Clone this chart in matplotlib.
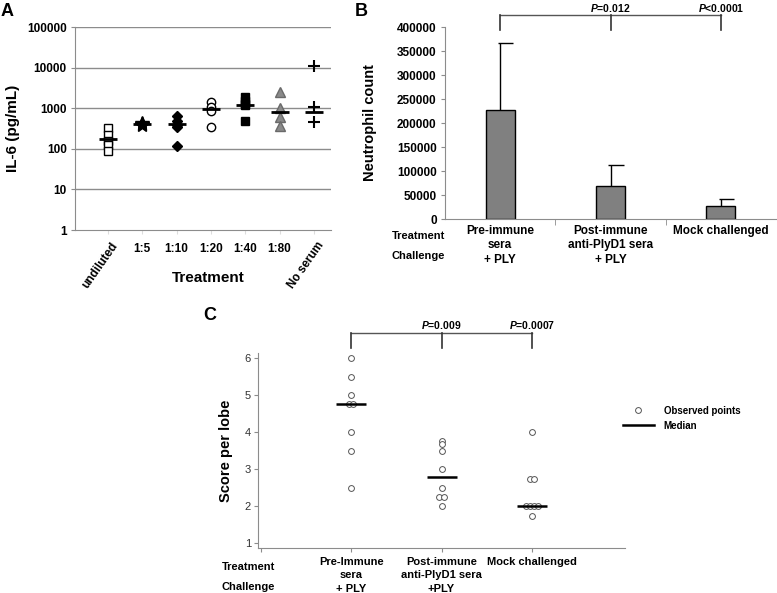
import numpy as np
import matplotlib
matplotlib.use("Agg")
import matplotlib.pyplot as plt
import matplotlib.transforms as mtransforms
from matplotlib.lines import Line2D

plt.rcParams['font.family'] = ['Liberation Sans', 'DejaVu Sans']
plt.rcParams['font.weight'] = 'bold'
plt.rcParams['axes.labelweight'] = 'bold'
plt.rcParams['mathtext.fontset'] = 'custom'
plt.rcParams['mathtext.rm'] = 'Liberation Sans:bold'
plt.rcParams['mathtext.it'] = 'Liberation Sans:italic:bold'

# Panel A: IL-6 (pg/mL) per dilution
a_groups = ['undiluted', '1:5', '1:10', '1:20', '1:40', '1:80', 'No serum']
a_undiluted = [330, 215, 160, 125, 90]
a_1_5 = [380, 400, 420, 410]
a_1_10 = [640, 480, 380, 340, 120]
a_1_20 = [1400, 1100, 850, 350]
a_1_40 = [1900, 1500, 1250, 1200, 480]
a_1_80 = [2500, 1000, 620, 370]
a_noserum = [11000, 1100, 450]
a_median = [175, 400, 410, 970, 1200, 800, 800]
a_yticks = [1, 10, 100, 1000, 10000, 100000]

# Panel B: neutrophil count
b_groups = ['Pre-immune\nsera\n+ PLY', 'Post-immune\nanti-PlyD1 sera\n+ PLY', 'Mock challenged']
b_mean = [227000, 69500, 27000]
b_err = [139000, 43000, 15300]
b_pvals = ['$P$=0.012', '$P$<0.0001']

# Panel C: score per lobe
c_groups = ['Pre-Immune\nsera\n+ PLY', 'Post-immune\nanti-PlyD1 sera\n+PLY', 'Mock challenged']
c_pre = [6, 5.5, 5, 4.75, 4.75, 4, 3.5, 2.5]
c_post = [3.75, 3.67, 3.5, 3, 2.5, 2.25, 2.25, 2]
c_mock = [4, 2.75, 2.75, 2, 2, 2, 2, 1.75]
c_median = [4.75, 2.8, 2.0]
c_pvals = ['$P$=0.009', '$P$=0.0007']

W, H = 777, 593
fig = plt.figure(figsize=(W / 100, H / 100), dpi=100)


def box(l, t, r, b):
    return [l / W, 1 - b / H, (r - l) / W, (b - t) / H]


def ftext(x, y, s, **kw):
    fig.text(x / W, 1 - y / H, s, **kw)


grey = '#8c8c8c'

# ---------- A ----------
ax = fig.add_axes(box(75, 27, 331, 230))
ax.set_yscale('log')
ax.set_ylim(1, 100000)
ax.set_xlim(-0.96, 6.5)
for v in a_yticks[1:]:
    ax.axhline(v, color=grey, lw=1, zorder=0)
ax.set_yticks(a_yticks)
ax.set_yticklabels([str(v) for v in a_yticks], fontsize=8.5)
ax.yaxis.set_minor_locator(matplotlib.ticker.NullLocator())
ax.tick_params(axis='y', length=3, color=grey, pad=3)
ax.set_xticks(range(7))
ax.set_xticklabels([])
ax.tick_params(axis='x', length=3, color='#dddddd')
for s in ['top', 'right']:
    ax.spines[s].set_visible(False)
for s in ['left', 'bottom']:
    ax.spines[s].set_color(grey)

styles = [
    dict(marker='s', mfc='white', mec='black', ms=6, mew=1),
    dict(marker='*', mfc='black', mec='black', ms=10, mew=1),
    dict(marker='D', mfc='black', mec='black', ms=5),
    dict(marker='o', mfc='white', mec='black', ms=6, mew=1),
    dict(marker='s', mfc='black', mec='black', ms=6),
    dict(marker='^', mfc='#8a8a8a', mec='#6a6a6a', ms=7),
    dict(marker='+', mfc='black', mec='black', ms=9, mew=1.5),
]
a_series = [a_undiluted, a_1_5, a_1_10, a_1_20, a_1_40, a_1_80, a_noserum]
for i, vals in enumerate(a_series):
    ax.plot([i] * len(vals), vals, ls='none', **styles[i], zorder=3)
    ax.plot([i], [a_median[i]], marker='_', ms=13, mew=2, color='black', zorder=4)

blend = mtransforms.blended_transform_factory(ax.transData, ax.transAxes)
for i, lab in enumerate(a_groups):
    if i in (0, 6):
        ax.text(i + 0.22, -0.065, lab, transform=blend, rotation=55, ha='right', va='center',
                rotation_mode='anchor', fontsize=8.5)
    else:
        ax.text(i, -0.094, lab, transform=blend, ha='center', va='center', fontsize=8.5)
ax.text(0.52, -0.236, 'Treatment', transform=ax.transAxes, ha='center', va='center', fontsize=11)
ax.set_ylabel('IL-6 (pg/mL)', fontsize=11)
ax.yaxis.set_label_coords(-0.215, 0.5)
ftext(1, 12, 'A', fontsize=13, va='center', ha='left')

# ---------- B ----------
bx = fig.add_axes(box(445, 27, 776, 219))
xb = np.arange(len(b_mean))
bx.bar(xb, b_mean, width=0.26, color='#808080', edgecolor='black', lw=1, zorder=2)
bx.vlines(xb, b_mean, np.array(b_mean) + np.array(b_err), color='black', lw=1)
bx.hlines(np.array(b_mean) + np.array(b_err), xb - 0.02, xb + 0.12, color='black', lw=1)
bx.set_xlim(-0.5, 2.5)
bx.set_ylim(0, 400000)
bx.set_yticks(np.arange(0, 400001, 50000))
bx.set_yticklabels([str(v) for v in range(0, 400001, 50000)], fontsize=8.5)
bx.tick_params(axis='y', length=3, color=grey, pad=3)
bx.set_xticks(xb)
bx.set_xticklabels(b_groups, fontsize=8.5, linespacing=1.3)
bx.tick_params(axis='x', length=0, pad=4)
bx.set_xticks([0.5, 1.5], minor=True)
bx.tick_params(axis='x', which='minor', length=4, color=grey)
for s in ['top', 'right']:
    bx.spines[s].set_visible(False)
for s in ['left', 'bottom']:
    bx.spines[s].set_color(grey)
bx.set_ylabel('Neutrophil count', fontsize=10.5)
bx.yaxis.set_label_coords((377 - 445) / 331, 0.5)
ytop, ylow = 425000, 394000
bx.plot([0, 2], [ytop, ytop], color='#555555', lw=1, clip_on=False)
for x in xb:
    bx.plot([x, x], [ylow, ytop], color='#333333', lw=1.2, clip_on=False)
for x, p in zip([1, 2], b_pvals):
    bx.text(x, 440000, p, ha='center', va='center', fontsize=7.5)
ftext(355, 12, 'B', fontsize=13, va='center', ha='left')
ftext(392, 236, 'Treatment', fontsize=8, va='center')
ftext(392, 256, 'Challenge', fontsize=8, va='center')

# ---------- C ----------
cx = fig.add_axes(box(258, 353, 625, 548.3))
cx.set_xlim(-1.03, 3.03)
cx.set_ylim(0.865, 6.14)


def spread(vals, step=0.045):
    xs = []
    seen = {}
    for v in vals:
        n = vals.count(v)
        k = seen.get(v, 0)
        seen[v] = k + 1
        xs.append((k - (n - 1) / 2) * step)
    return np.array(xs)


for i, vals in enumerate([c_pre, c_post, c_mock]):
    cx.plot(i + spread(vals), vals, ls='none', marker='o', ms=4.2, mfc='white',
            mec='#555555', mew=0.7, zorder=3)
    cx.plot([i], [c_median[i]], marker='_', ms=22, mew=1.8, color='black', zorder=4)
cx.set_yticks([1, 2, 3, 4, 5, 6])
cx.set_yticklabels(['1', '2', '3', '4', '5', '6'], fontsize=8, fontweight='normal', color='#333333')
cx.tick_params(axis='y', length=3, color=grey, pad=2)
cx.set_xticks([-1, 0, 1, 2])
cx.set_xticklabels(['', c_groups[0], c_groups[1], c_groups[2]], fontsize=8, linespacing=1.45)
cx.tick_params(axis='x', length=3, color=grey, pad=3)
for s in ['top', 'right']:
    cx.spines[s].set_visible(False)
for s in ['left', 'bottom']:
    cx.spines[s].set_color(grey)
cx.set_ylabel('Score per lobe', fontsize=10.5)
cx.yaxis.set_label_coords((233 - 258) / 367, 0.5)
ctop, clow = 6.68, 6.28
cx.plot([0, 2], [ctop, ctop], color='#555555', lw=1, clip_on=False)
for x in range(3):
    cx.plot([x, x], [clow, ctop], color='#333333', lw=1.2, clip_on=False)
for x, p in zip([1, 2], c_pvals):
    cx.text(x, 6.9, p, ha='center', va='center', fontsize=7.5)
ftext(203, 316, 'C', fontsize=13, va='center', ha='left')
ftext(222, 567, 'Treatment', fontsize=8, va='center')
ftext(222, 587, 'Challenge', fontsize=8, va='center')

handles = [Line2D([], [], ls='none', marker='o', ms=4.2, mfc='white', mec='#555555', mew=0.7),
           Line2D([], [], color='black', lw=1.8)]
fig.legend(handles, ['Observed points', 'Median'], loc='upper left',
           bbox_to_anchor=(614 / W, 1 - 397 / H), frameon=False, fontsize=7,
           handlelength=3.2, handletextpad=1.0, labelspacing=0.5)

fig.savefig('out.png', dpi=100)
